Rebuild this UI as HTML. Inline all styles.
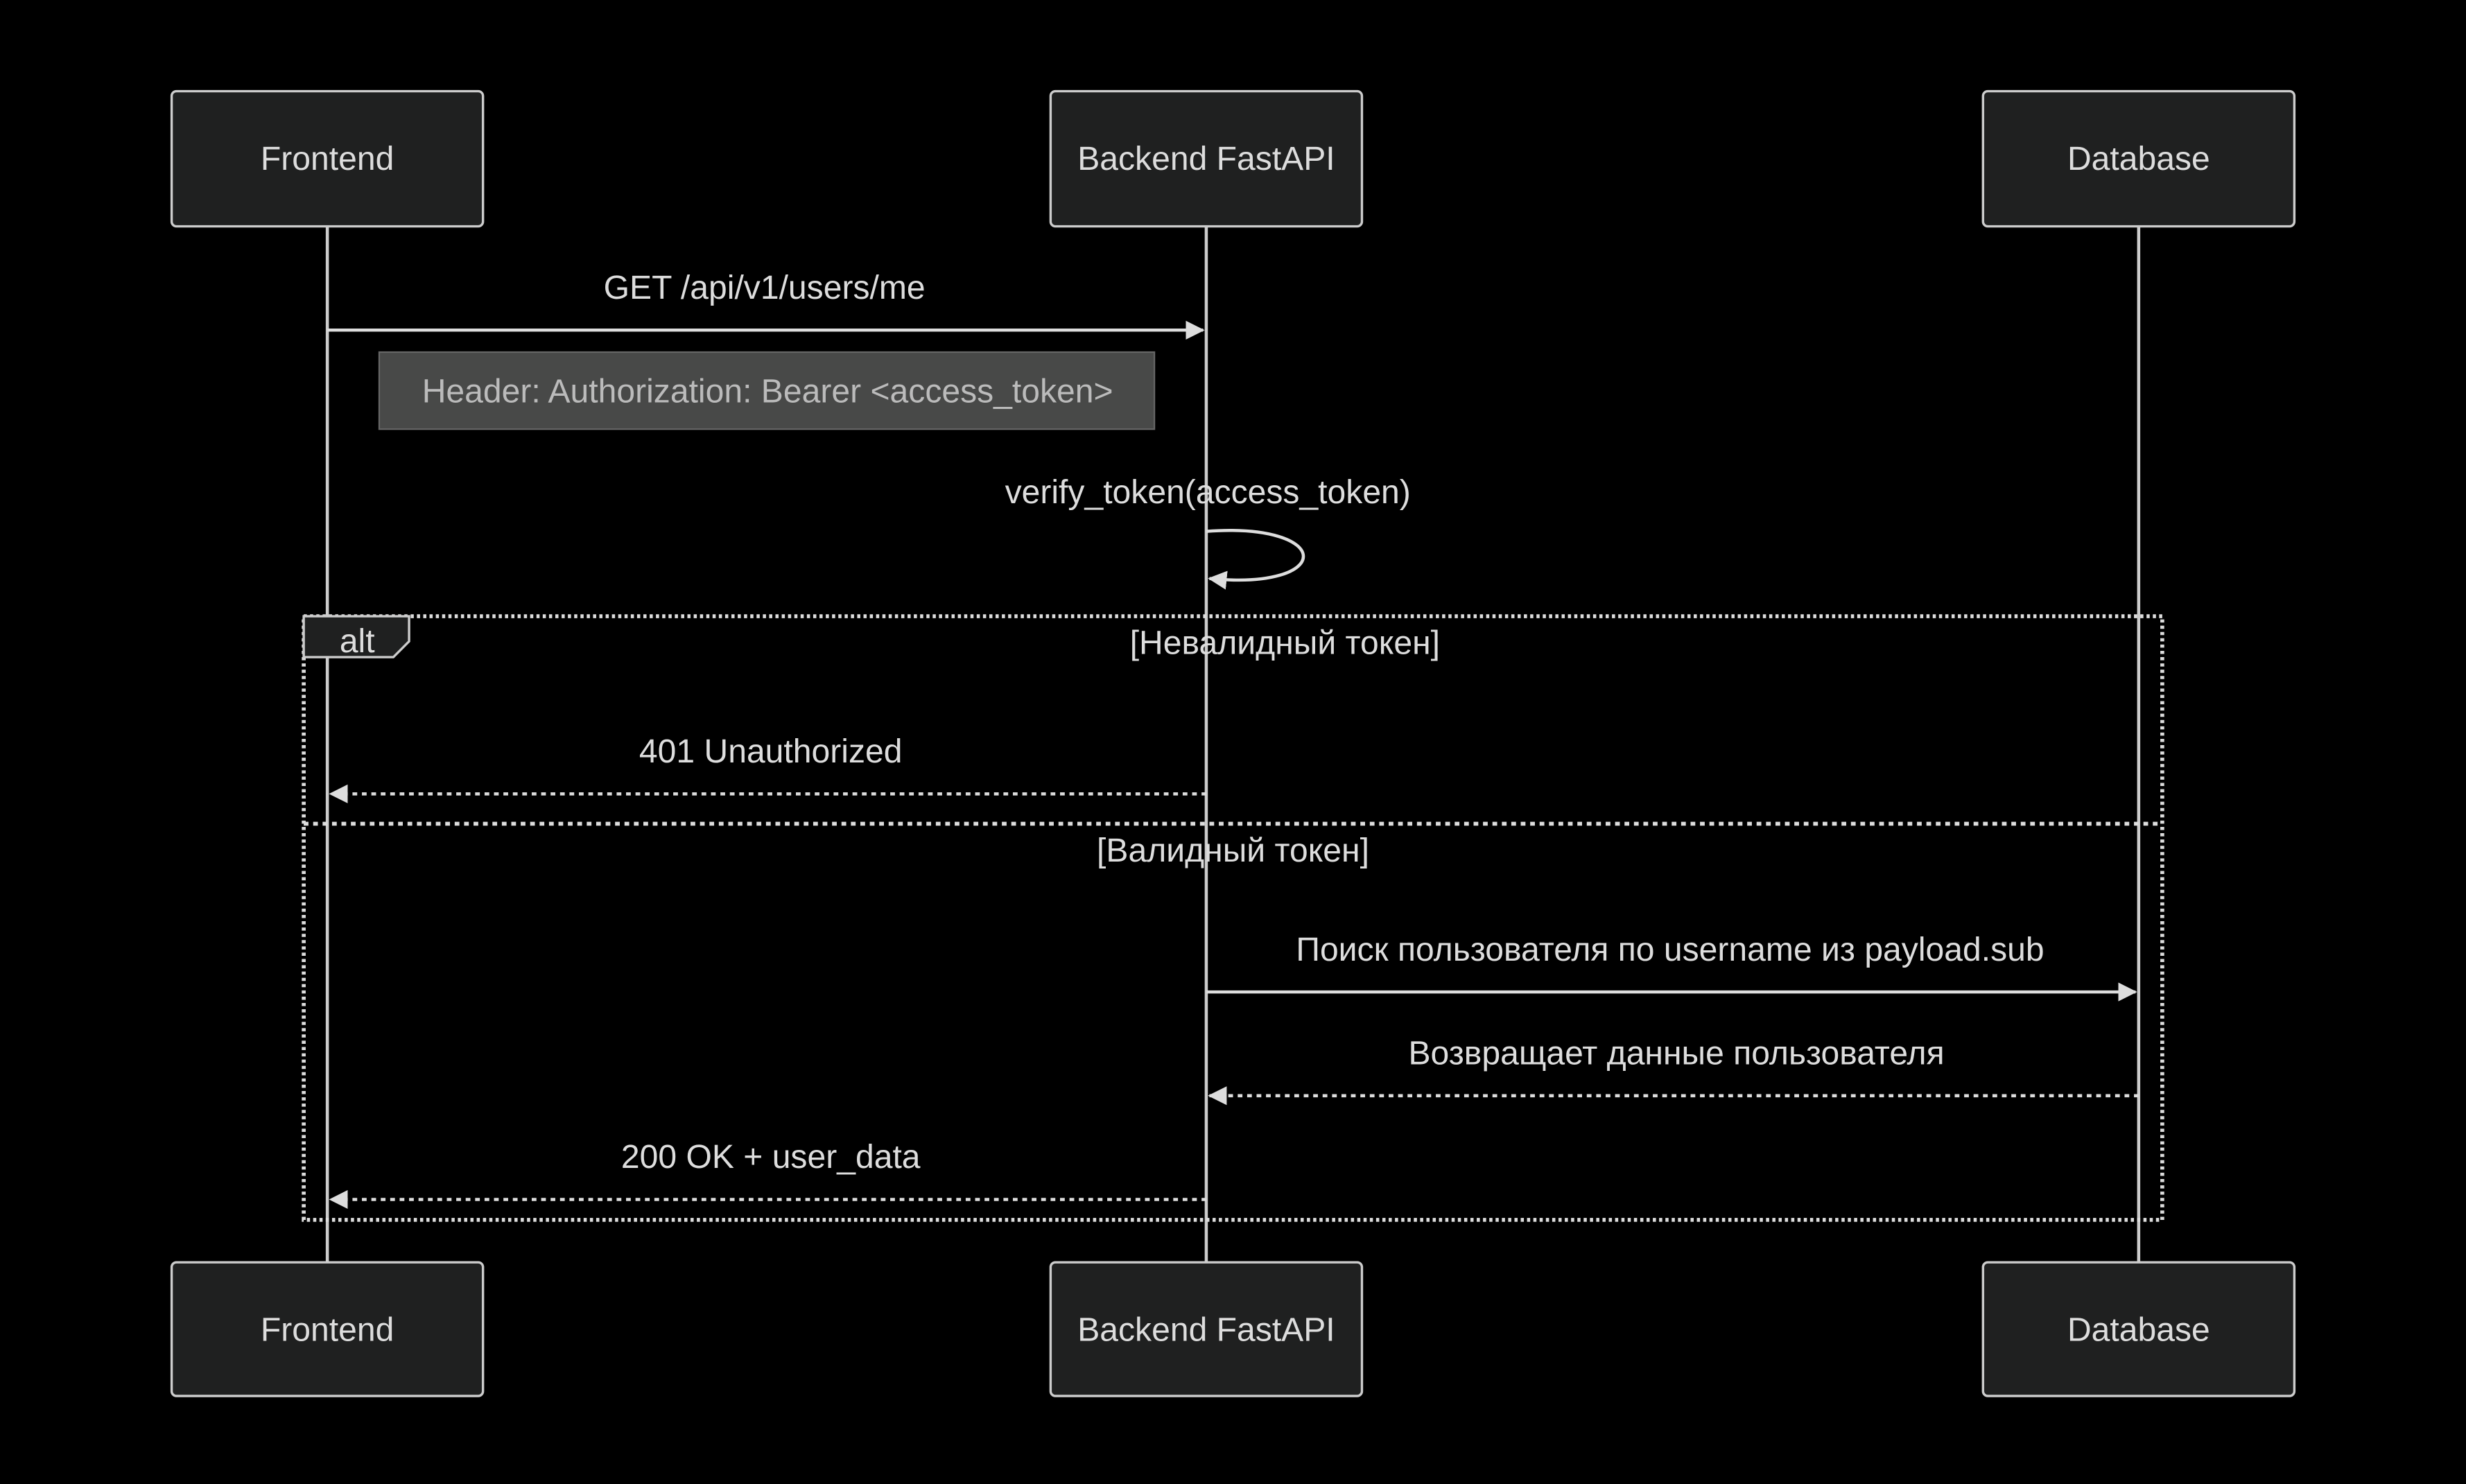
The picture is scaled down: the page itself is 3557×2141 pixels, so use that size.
<!DOCTYPE html>
<html><head><meta charset="utf-8"><style>
html,body{margin:0;padding:0;background:#000;}
svg{display:block;}
text{font-family:"Liberation Sans",Arial,sans-serif;fill:#ddd;}
</style></head><body>
<svg width="3557" height="2141" viewBox="0 0 1568 944" xmlns="http://www.w3.org/2000/svg">
<rect width="1568" height="944" fill="#000"/>
<defs>
<marker id="ah" viewBox="0 0 12 12" refX="11" refY="6" markerWidth="12" markerHeight="12" markerUnits="userSpaceOnUse" orient="auto">
<path d="M0,0 L12,6 L0,12 z" fill="#ddd"/></marker>
</defs>
<g stroke="#ccc" stroke-width="2">
<line x1="208" y1="144" x2="208" y2="803"/>
<line x1="767" y1="144" x2="767" y2="803"/>
<line x1="1360" y1="144" x2="1360" y2="803"/>
</g>
<g fill="#1f2020" stroke="#ccc" stroke-width="1.5">
<rect x="109" y="58" width="198" height="86" rx="3"/>
<rect x="668" y="58" width="198" height="86" rx="3"/>
<rect x="1261" y="58" width="198" height="86" rx="3"/>
<rect x="109" y="803" width="198" height="85" rx="3"/>
<rect x="668" y="803" width="198" height="85" rx="3"/>
<rect x="1261" y="803" width="198" height="85" rx="3"/>
</g>
<g font-size="21.2" text-anchor="middle">
<text x="208" y="108">Frontend</text>
<text x="767" y="108">Backend FastAPI</text>
<text x="1360" y="108">Database</text>
<text x="208" y="853">Frontend</text>
<text x="767" y="853">Backend FastAPI</text>
<text x="1360" y="853">Database</text>
</g>
<line x1="208" y1="210" x2="765" y2="210" stroke="#ddd" stroke-width="2" marker-end="url(#ah)"/>
<text x="486" y="190" font-size="21.2" text-anchor="middle">GET /api/v1/users/me</text>
<rect x="241" y="224" width="493" height="49" fill="#484948" stroke="#666" stroke-width="1"/>
<text x="488" y="256" font-size="21.2" text-anchor="middle" style="fill:#bbb">Header: Authorization: Bearer &lt;access_token&gt;</text>
<text x="768" y="320" font-size="21.2" text-anchor="middle">verify_token(access_token)</text>
<path d="M767,338 C849,332 849,376 769,368" fill="none" stroke="#ddd" stroke-width="2" marker-end="url(#ah)"/>
<rect x="193" y="392" width="1182" height="384" fill="none" stroke="#ddd" stroke-width="2.5" stroke-dasharray="2,2"/>
<path d="M193,392 L260,392 L260,408 L250,418 L193,418 z" fill="#1f2020" stroke="#ccc" stroke-width="1.5"/>
<text x="227" y="415" font-size="21.2" text-anchor="middle">alt</text>
<text x="817" y="416" font-size="21.2" text-anchor="middle">[Невалидный токен]</text>
<line x1="767" y1="505" x2="210" y2="505" stroke="#ddd" stroke-width="2" stroke-dasharray="3,3" marker-end="url(#ah)"/>
<text x="490" y="485" font-size="21.2" text-anchor="middle">401 Unauthorized</text>
<line x1="193" y1="524" x2="1375" y2="524" stroke="#ddd" stroke-width="2.5" stroke-dasharray="3,3"/>
<text x="784" y="548" font-size="21.2" text-anchor="middle">[Валидный токен]</text>
<line x1="767" y1="631" x2="1358" y2="631" stroke="#ddd" stroke-width="2" marker-end="url(#ah)"/>
<text x="1062" y="611" font-size="21.2" text-anchor="middle">Поиск пользователя по username из payload.sub</text>
<line x1="1360" y1="697" x2="769" y2="697" stroke="#ddd" stroke-width="2" stroke-dasharray="3,3" marker-end="url(#ah)"/>
<text x="1066" y="677" font-size="21.2" text-anchor="middle">Возвращает данные пользователя</text>
<line x1="767" y1="763" x2="210" y2="763" stroke="#ddd" stroke-width="2" stroke-dasharray="3,3" marker-end="url(#ah)"/>
<text x="490" y="743" font-size="21.2" text-anchor="middle">200 OK + user_data</text>
</svg>
</body></html>
